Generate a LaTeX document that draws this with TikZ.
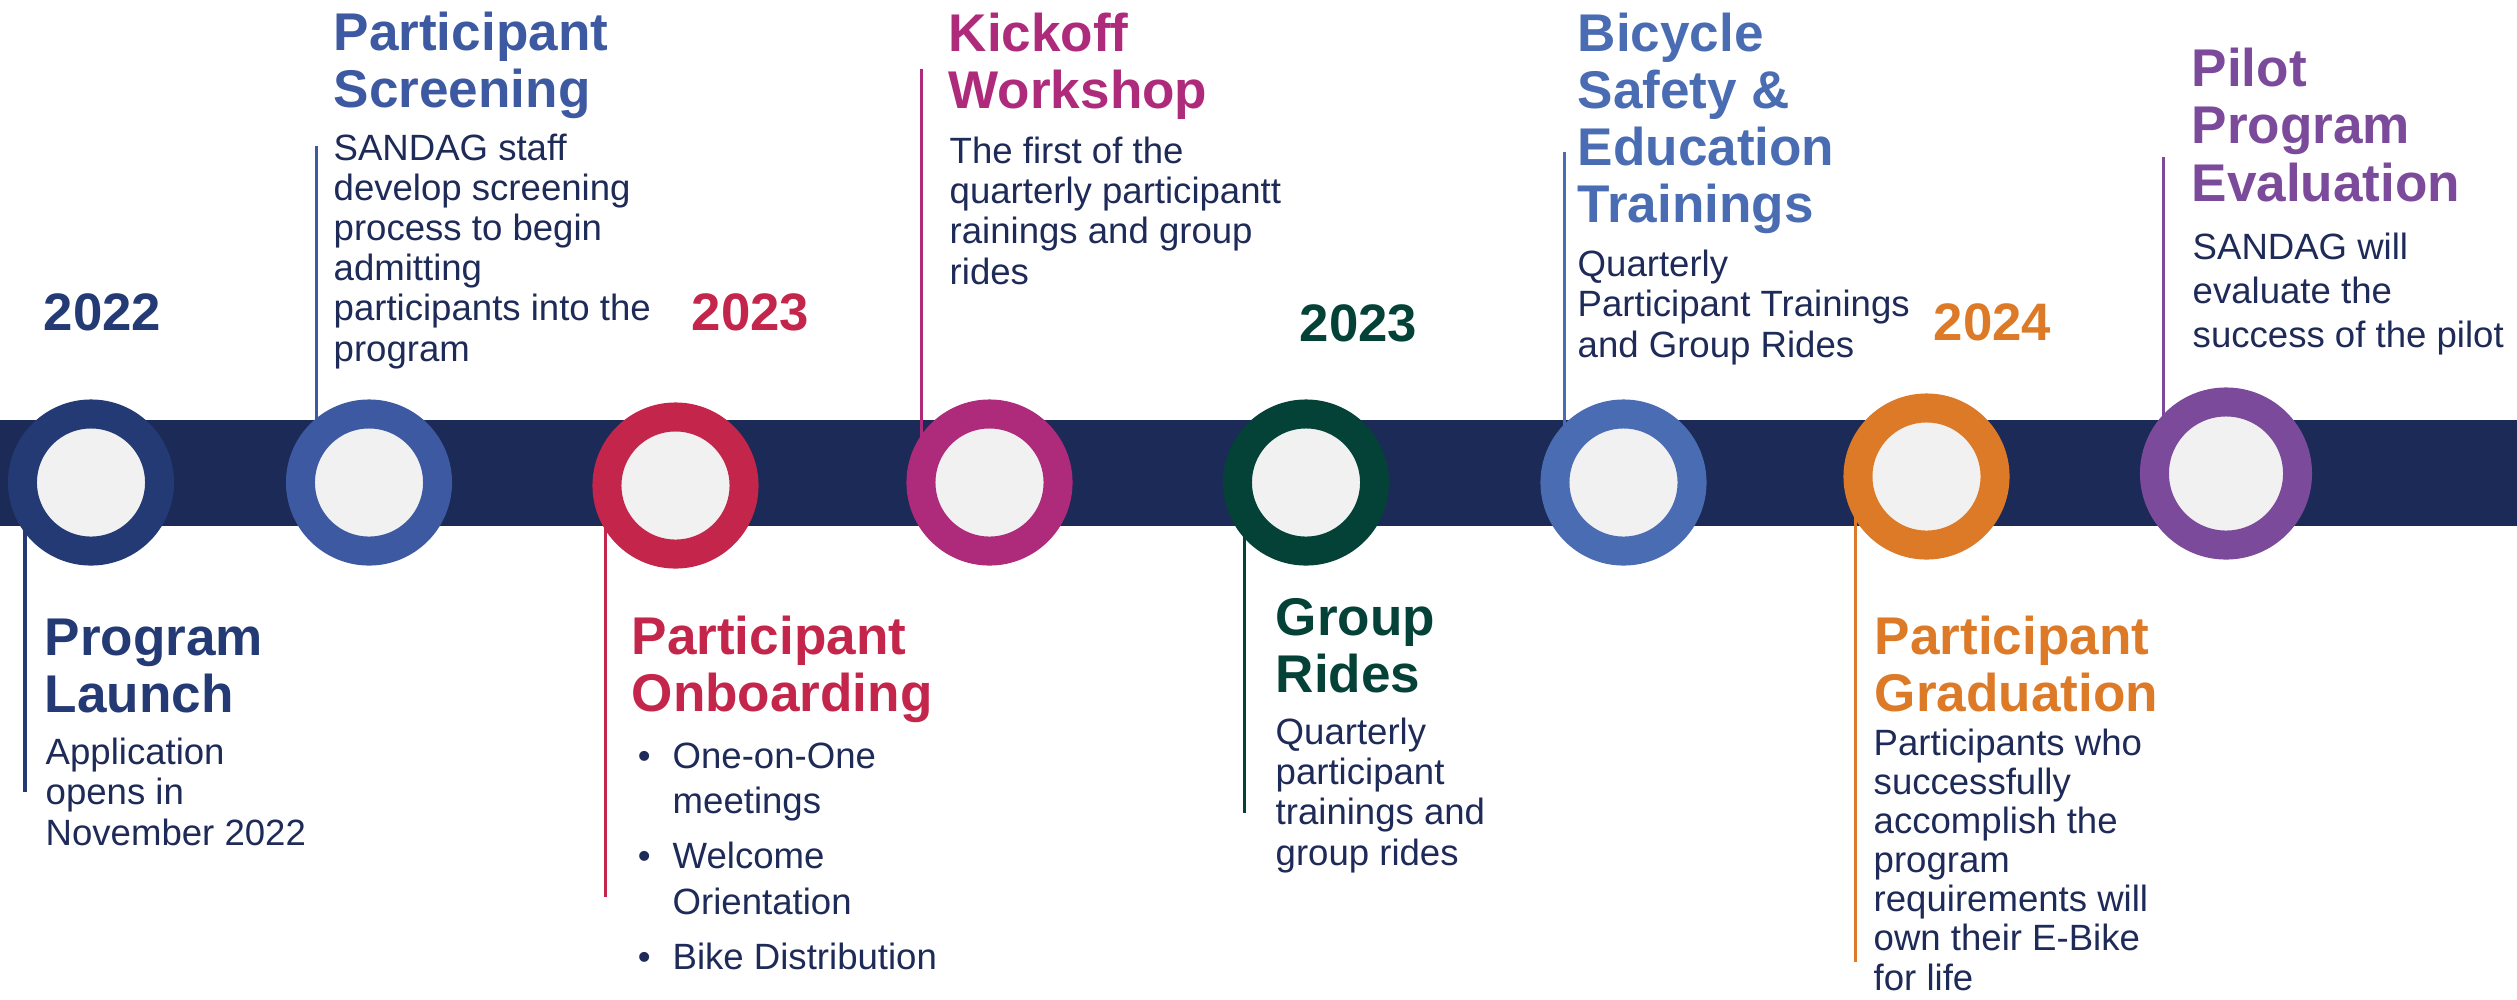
\documentclass[tikz,border=0pt]{standalone}
\usepackage{fontspec}
\setmainfont{Liberation Sans}
\usetikzlibrary{positioning}

\definecolor{bandnavy}{HTML}{1B2A56}
\definecolor{textnavy}{HTML}{1E2A57}
\definecolor{launchcol}{HTML}{243A74}
\definecolor{screencol}{HTML}{3D59A1}
\definecolor{onboardcol}{HTML}{C3264A}
\definecolor{kickoffcol}{HTML}{AE2B7B}
\definecolor{ridescol}{HTML}{044238}
\definecolor{safetycol}{HTML}{4A6CB3}
\definecolor{gradcol}{HTML}{DD7A27}
\definecolor{pilotcol}{HTML}{7B4A9A}
\definecolor{ringfill}{HTML}{F1F1F1}

\begin{document}
\begin{tikzpicture}[x=0.01cm,y=-0.01cm,
  ring/.style={circle, draw=#1, fill=ringfill, line width=0.29cm, minimum size=1.37cm, inner sep=0pt},
  leader/.style={draw=#1, line width=0.03cm},
  title/.style={anchor=base west, inner sep=0pt, align=left, text=#1, font=\bfseries\fontsize{15.1}{16.2}\selectfont},
  body/.style={anchor=base west, inner sep=0pt, align=left, text=textnavy, font=\fontsize{10.4}{11.4}\selectfont},
  year/.style={anchor=base west, inner sep=0pt, text=#1, font=\bfseries\fontsize{15}{18}\selectfont}]
 \useasboundingbox (0,0) rectangle (2517,999);
 % the timeline band
 \fill[bandnavy] (0,420) rectangle (2517,526);

 % ring centres
 \coordinate (c1) at (91,482.5);
 \coordinate (c2) at (369,482.5);
 \coordinate (c3) at (675.5,485.5);
 \coordinate (c4) at (989.5,482.5);
 \coordinate (c5) at (1306,482.5);
 \coordinate (c6) at (1623.5,482.5);
 \coordinate (c7) at (1926.5,476.5);
 \coordinate (c8) at (2226,473.5);

 % leader ends
 \coordinate (l1) at (25,792);
 \coordinate (l2) at (316,146);
 \coordinate (l3) at (605,897);
 \coordinate (l4) at (921,69);
 \coordinate (l5) at (1244,813);
 \coordinate (l6) at (1564,152);
 \coordinate (l7) at (1855,962);
 \coordinate (l8) at (2163,157);
 \draw[leader=launchcol] (l1) -- (l1 |- c1);
 \draw[leader=screencol] (l2) -- (l2 |- c2);
 \draw[leader=onboardcol] (l3) -- (l3 |- c3);
 \draw[leader=kickoffcol] (l4) -- (l4 |- c4);
 \draw[leader=ridescol] (l5) -- (l5 |- c5);
 \draw[leader=safetycol] (l6) -- (l6 |- c6);
 \draw[leader=gradcol] (l7) -- (l7 |- c7);
 \draw[leader=pilotcol] (l8) -- (l8 |- c8);

 \node[ring=launchcol] (r1) at (c1) {};
 \node[ring=screencol] (r2) at (c2) {};
 \node[ring=onboardcol] (r3) at (c3) {};
 \node[ring=kickoffcol] (r4) at (c4) {};
 \node[ring=ridescol] (r5) at (c5) {};
 \node[ring=safetycol] (r6) at (c6) {};
 \node[ring=gradcol] (r7) at (c7) {};
 \node[ring=pilotcol, minimum size=1.43cm] (r8) at (c8) {};

 % years
 \node[year=launchcol] (y2022) at (43,330) {2022};
 \node[year=onboardcol] (y2023a) at (691,330) {2023};
 \node[year=ridescol] (y2023b) at (1299,341) {2023};
 \node[year=gradcol] (y2024) at (1933,340) {2024};

 % milestones (placed at the baseline of their last line)
 \node[title=launchcol] (launch) at (44,712) {Program\\Launch};
 \node[body] (launchtxt) at (45,845) {Application\\opens in\\November 2022};

 \node[title=screencol] (screen) at (333,107) {Participant\\Screening};
 \node[body] (screentxt) at (333,361) {SANDAG staff\\develop screening\\process to begin\\admitting\\participants into the\\program};

 \node[title=onboardcol] (onboard) at (631,711) {Participant\\Onboarding};
 \node[body, font=\fontsize{10.4}{12.8}\selectfont] (onboardtxt) at (672,969)
   {\llap{\textbullet\hspace{0.22cm}}One-on-One\\meetings\\[0.1cm]\llap{\textbullet\hspace{0.22cm}}Welcome\\Orientation\\[0.1cm]\llap{\textbullet\hspace{0.22cm}}Bike Distribution};

 \node[title=kickoffcol] (kickoff) at (948,108) {Kickoff\\Workshop};
 \node[body] (kickofftxt) at (949,284) {The first of the\\quarterly participantt\\rainings and group\\rides};

 \node[title=ridescol] (rides) at (1275,692) {Group\\Rides};
 \node[body] (ridestxt) at (1275,865) {Quarterly\\participant\\trainings and\\group rides};

 \node[title=safetycol] (safety) at (1577,222) {Bicycle\\Safety \&\\Education\\Trainings};
 \node[body] (safetytxt) at (1577,357) {Quarterly\\Participant Trainings\\and Group Rides};

 \node[title=gradcol] (grad) at (1874,711) {Participant\\Graduation};
 \node[body, font=\fontsize{10.4}{11.1}\selectfont] (gradtxt) at (1873,990) {Participants who\\successfully\\accomplish the\\program\\requirements will\\own their E-Bike\\for life};

 \node[title=pilotcol, font=\bfseries\fontsize{15.1}{16.35}\selectfont] (pilot) at (2191,201) {Pilot\\Program\\Evaluation};
 \node[body, font=\fontsize{10.4}{12.5}\selectfont] (pilottxt) at (2192,347) {SANDAG will\\evaluate the\\success of the pilot};
\end{tikzpicture}
\end{document}
